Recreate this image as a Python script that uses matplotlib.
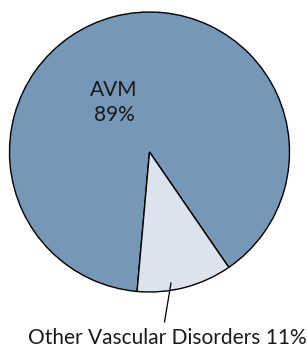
import matplotlib
matplotlib.use('Agg')
import matplotlib.pyplot as plt

labels = ['AVM', 'Other Vascular Disorders']
shares = [89, 11]
colors = ['#7598B8', '#DCE3EC']

W, H = 307, 347
fig = plt.figure(figsize=(W / 100, H / 100), dpi=100)
ax = fig.add_axes([0, 0, 1, 1])

# pixel-like data coordinates, y pointing up
cx, cy, r = 149.5, H - 152, 140
ax.pie(shares, colors=colors, startangle=-55.5, counterclock=True,
       center=(cx, cy), radius=r,
       wedgeprops={'edgecolor': 'black', 'linewidth': 1.0})
ax.set_aspect('auto')
ax.set_xlim(0, W)
ax.set_ylim(0, H)
ax.axis('off')

fam = ['Lato', 'DejaVu Sans']
ax.text(114, H - 102.5, 'AVM\n%d%%' % shares[0], ha='center', va='center',
        fontsize=15, family=fam, linespacing=1.35, color='#1a1a1a')

# leader line + label
ax.plot([171, 164.5], [H - 283, H - 322], color='black', lw=0.9)
ax.text(167, H - 344, '%s %d%%' % (labels[1], shares[1]),
        ha='center', va='baseline', fontsize=15, family=fam, color='#1a1a1a')

fig.savefig('out.png', dpi=100)
